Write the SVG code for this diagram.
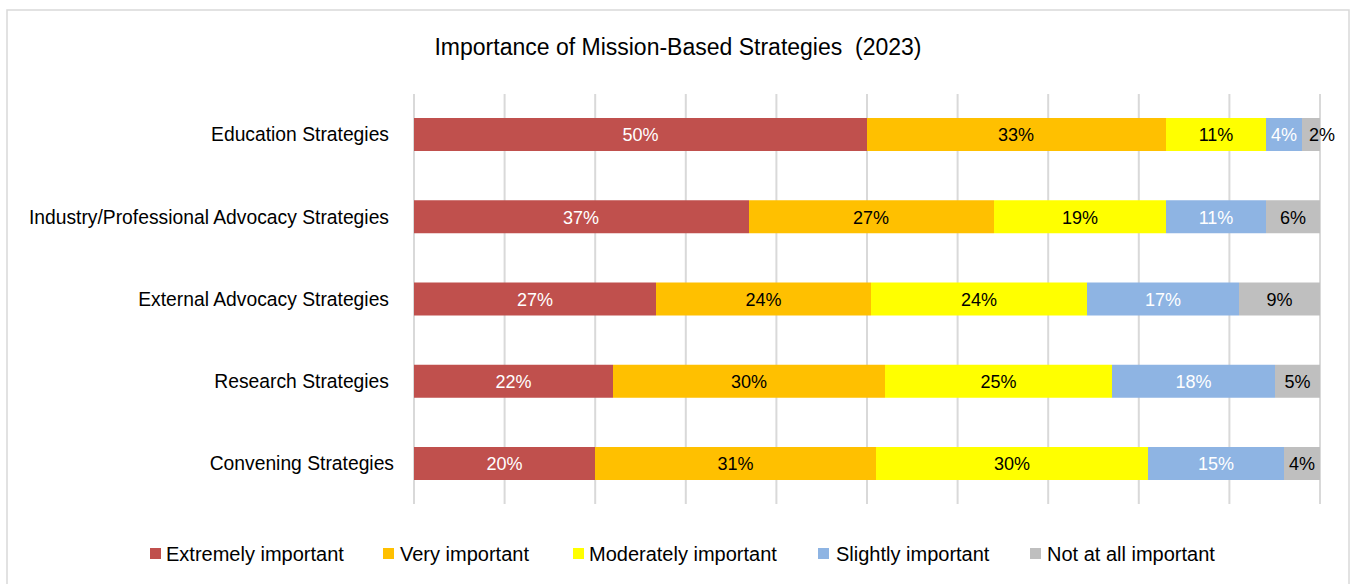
<svg xmlns="http://www.w3.org/2000/svg" width="1351" height="584" viewBox="0 0 1351 584">
<style>
text{font-family:"Liberation Sans",Arial,sans-serif;}
.cat{font-size:19.3px;fill:#000;text-anchor:end;}
.lbl{font-size:18px;text-anchor:middle;}
.w{fill:#fff;}
.k{fill:#000;}
.leg{font-size:20px;fill:#000;}
.grid line{stroke:#D9D9D9;stroke-width:2;}
.c1{fill:#C0504D;}.c2{fill:#FFC000;}.c3{fill:#FFFF00;}.c4{fill:#8EB4E3;}.c5{fill:#BFBFBF;}
</style>
<rect x="0" y="0" width="1351" height="584" fill="#fff"/>
<rect x="7" y="10" width="1342" height="590" fill="#fff" stroke="#D9D9D9" stroke-width="1.5"/>
<text id="title" x="678" y="55" font-size="23" text-anchor="middle" fill="#000" xml:space="preserve" style="white-space:pre">Importance of Mission-Based Strategies  (2023)</text>
<g class="grid" id="gridlines">
<line x1="414" y1="94" x2="414" y2="504"/>
<line x1="504.6" y1="94" x2="504.6" y2="504"/>
<line x1="595.2" y1="94" x2="595.2" y2="504"/>
<line x1="685.8" y1="94" x2="685.8" y2="504"/>
<line x1="776.4" y1="94" x2="776.4" y2="504"/>
<line x1="867" y1="94" x2="867" y2="504"/>
<line x1="957.6" y1="94" x2="957.6" y2="504"/>
<line x1="1048.2" y1="94" x2="1048.2" y2="504"/>
<line x1="1138.8" y1="94" x2="1138.8" y2="504"/>
<line x1="1229.4" y1="94" x2="1229.4" y2="504"/>
<line x1="1320" y1="94" x2="1320" y2="504"/>
</g>
<g id="row-education">
<text class="cat" x="389" y="141">Education Strategies</text>
<rect class="c1" x="414" y="118" width="453" height="33"/>
<rect class="c2" x="867" y="118" width="299" height="33"/>
<rect class="c3" x="1166" y="118" width="100" height="33"/>
<rect class="c4" x="1266" y="118" width="36" height="33"/>
<rect class="c5" x="1302" y="118" width="18" height="33"/>
<text class="lbl w" x="640.5" y="141">50%</text>
<text class="lbl k" x="1016" y="141">33%</text>
<text class="lbl k" x="1216" y="141">11%</text>
<text class="lbl w" x="1284" y="141">4%</text>
<text class="lbl k" x="1322" y="141">2%</text>
</g>
<g id="row-industry">
<text class="cat" x="389" y="223.5">Industry/Professional Advocacy Strategies</text>
<rect class="c1" x="414" y="200.25" width="335" height="33"/>
<rect class="c2" x="749" y="200.25" width="245" height="33"/>
<rect class="c3" x="994" y="200.25" width="172" height="33"/>
<rect class="c4" x="1166" y="200.25" width="100" height="33"/>
<rect class="c5" x="1266" y="200.25" width="54" height="33"/>
<text class="lbl w" x="581" y="223.5">37%</text>
<text class="lbl k" x="871" y="223.5">27%</text>
<text class="lbl k" x="1080" y="223.5">19%</text>
<text class="lbl w" x="1216" y="223.5">11%</text>
<text class="lbl k" x="1293" y="223.5">6%</text>
</g>
<g id="row-external">
<text class="cat" x="389" y="306">External Advocacy Strategies</text>
<rect class="c1" x="414" y="282.5" width="242" height="33"/>
<rect class="c2" x="656" y="282.5" width="215" height="33"/>
<rect class="c3" x="871" y="282.5" width="216" height="33"/>
<rect class="c4" x="1087" y="282.5" width="152" height="33"/>
<rect class="c5" x="1239" y="282.5" width="81" height="33"/>
<text class="lbl w" x="535" y="306">27%</text>
<text class="lbl k" x="763.5" y="306">24%</text>
<text class="lbl k" x="979" y="306">24%</text>
<text class="lbl w" x="1163" y="306">17%</text>
<text class="lbl k" x="1279.5" y="306">9%</text>
</g>
<g id="row-research">
<text class="cat" x="389" y="388">Research Strategies</text>
<rect class="c1" x="414" y="364.75" width="199" height="33"/>
<rect class="c2" x="613" y="364.75" width="272" height="33"/>
<rect class="c3" x="885" y="364.75" width="227" height="33"/>
<rect class="c4" x="1112" y="364.75" width="163" height="33"/>
<rect class="c5" x="1275" y="364.75" width="45" height="33"/>
<text class="lbl w" x="513.5" y="388">22%</text>
<text class="lbl k" x="749" y="388">30%</text>
<text class="lbl k" x="998.5" y="388">25%</text>
<text class="lbl w" x="1193.5" y="388">18%</text>
<text class="lbl k" x="1297.5" y="388">5%</text>
</g>
<g id="row-convening">
<text class="cat" x="394" y="470">Convening Strategies</text>
<rect class="c1" x="414" y="447" width="181" height="33"/>
<rect class="c2" x="595" y="447" width="281" height="33"/>
<rect class="c3" x="876" y="447" width="272" height="33"/>
<rect class="c4" x="1148" y="447" width="136" height="33"/>
<rect class="c5" x="1284" y="447" width="36" height="33"/>
<text class="lbl w" x="504.5" y="470">20%</text>
<text class="lbl k" x="735.5" y="470">31%</text>
<text class="lbl k" x="1012" y="470">30%</text>
<text class="lbl w" x="1216" y="470">15%</text>
<text class="lbl k" x="1302" y="470">4%</text>
</g>
<g id="legend">
<rect class="c1" x="150" y="548" width="11" height="11"/>
<text class="leg" x="166" y="561">Extremely important</text>
<rect class="c2" x="383" y="548" width="11" height="11"/>
<text class="leg" x="400" y="561">Very important</text>
<rect class="c3" x="573" y="548" width="11" height="11"/>
<text class="leg" x="589" y="561">Moderately important</text>
<rect class="c4" x="818" y="548" width="11" height="11"/>
<text class="leg" x="836" y="561">Slightly important</text>
<rect class="c5" x="1030" y="548" width="11" height="11"/>
<text class="leg" x="1047" y="561">Not at all important</text>
</g>
</svg>
